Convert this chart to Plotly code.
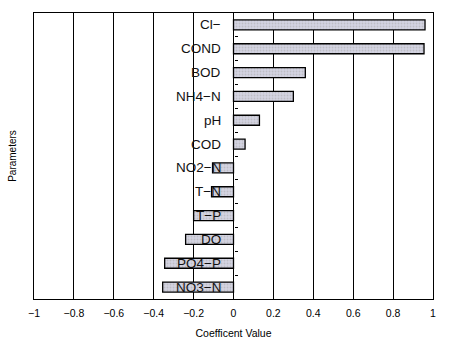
import plotly.graph_objects as go

# Correlation coefficients of water-quality parameters
parameters = ["Cl−", "COND", "BOD", "NH4−N", "pH", "COD",
              "NO2−N", "T−N", "T−P", "DO", "PO4−P", "NO3−N"]
coefficients = [0.96, 0.955, 0.36, 0.30, 0.13, 0.058,
                -0.105, -0.11, -0.20, -0.24, -0.345, -0.355]
x_ticks = [-1, -0.8, -0.6, -0.4, -0.2, 0, 0.2, 0.4, 0.6, 0.8, 1]

positions = list(range(len(parameters)))
boundaries = [p + 0.5 for p in positions[:-1]]

fig = go.Figure()
fig.add_trace(go.Bar(
    x=coefficients,
    y=positions,
    orientation="h",
    width=0.42,
    marker=dict(
        color="#c8c8d0",
        line=dict(color="black", width=1.3),
        pattern=dict(shape=".", fgcolor="#a8a8a8", bgcolor="#d4d4e2",
                     size=3, solidity=0.3),
    ),
    showlegend=False,
    hoverinfo="skip",
))

# Parameter names sit just left of the zero line
for pos, name in zip(positions, parameters):
    fig.add_annotation(x=0, y=pos, text=name, showarrow=False,
                       xanchor="right", yanchor="middle", xshift=-11,
                       font=dict(family="Liberation Sans, Arial", size=13.5,
                                 color="#111111"))

fig.update_layout(
    width=458, height=344,
    margin=dict(l=34, r=25, t=13, b=45),
    paper_bgcolor="white", plot_bgcolor="white",
    font=dict(family="Liberation Sans, Arial", size=10, color="black"),
    xaxis=dict(
        range=[-1, 1], tickvals=x_ticks,
        ticktext=[("−" if v < 0 else "") + f"{abs(v):g}" for v in x_ticks],
        showgrid=True, gridcolor="black", gridwidth=1,
        zeroline=True, zerolinecolor="black", zerolinewidth=1,
        showline=True, linecolor="black", linewidth=1.3, mirror=True,
        ticks="", tickfont=dict(size=10.5), ticklabelstandoff=4,
        title=dict(text="Coefficent Value", font=dict(size=10.5), standoff=11),
        automargin=False,
    ),
    yaxis=dict(
        range=[len(parameters) - 0.5, -0.5],
        showgrid=False, zeroline=False, showticklabels=False,
        showline=True, linecolor="black", linewidth=1.3, mirror=True,
        ticks="", automargin=False,
        title=dict(text="Parameters", font=dict(size=10), standoff=14),
    ),
    yaxis2=dict(
        overlaying="y", anchor="free", position=0.5, side="right",
        range=[len(parameters) - 0.5, -0.5],
        tickvals=boundaries, ticks="outside", ticklen=3, tickwidth=1,
        tickcolor="black", showticklabels=False, showgrid=False,
        zeroline=False, showline=False, automargin=False,
    ),
    bargap=0.58,
)
# Invisible trace to activate the boundary-tick axis on the zero line
fig.add_trace(go.Scatter(x=[0], y=[0], yaxis="y2", mode="markers",
                         marker=dict(opacity=0), showlegend=False,
                         hoverinfo="skip"))

fig.write_html("out.html")
